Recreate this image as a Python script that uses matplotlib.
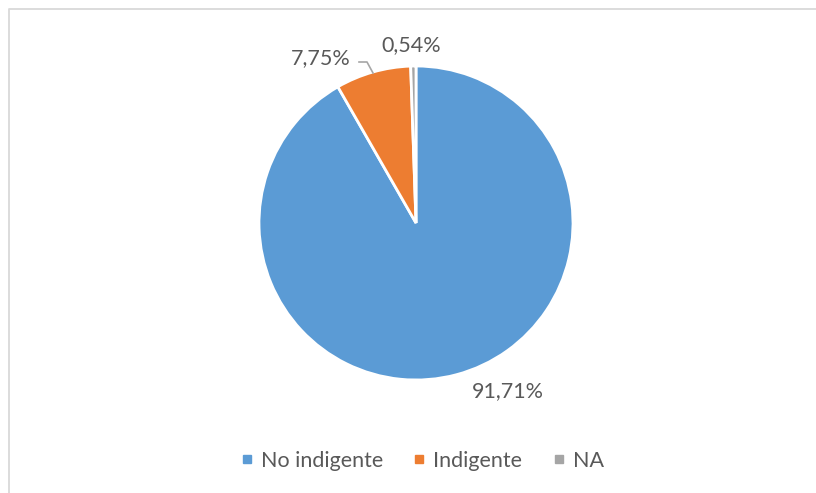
import numpy as np
import matplotlib.pyplot as plt
from matplotlib.lines import Line2D

# Data
categories = ['No indigente', 'Indigente', 'NA']
shares = [91.71, 7.75, 0.54]
labels = ['91,71%', '7,75%', '0,54%']
colors = ['#5B9BD5', '#ED7D31', '#A5A5A5']

W, H = 816, 493
plt.rcParams['font.family'] = ['Lato', 'DejaVu Sans']
text_color = '#595959'

fig = plt.figure(figsize=(W / 100, H / 100), dpi=100)
ax = fig.add_axes([0, 0, 1, 1])

# pie centre / radius in pixels (y measured upward)
cx, cy, r = 416, H - 223, 157
wedges, _ = ax.pie(shares, colors=colors, startangle=90, counterclock=False,
                   center=(cx, cy), radius=r,
                   wedgeprops=dict(edgecolor='white', linewidth=2))
ax.set_xlim(0, W)
ax.set_ylim(0, H)
ax.set_aspect('equal')
ax.axis('off')

# frame (only top and left visible in the reference)
ax.plot([8.5, 8.5, W], [0, H - 9, H - 9], color='#D9D9D9', lw=1.3,
        solid_capstyle='butt')

# label positions (text centres)
label_pos = [(508, H - 391), (321, H - 58), (411, H - 45)]
for (x, y), lab in zip(label_pos, labels):
    ax.text(x, y, lab, ha='center', va='center', fontsize=15.5,
            color=text_color)

# leader line for the small orange slice
mid = np.deg2rad((wedges[1].theta1 + wedges[1].theta2) / 2)
ex, ey = cx + r * np.cos(mid), cy + r * np.sin(mid)
ax.plot([359, 367, ex], [H - 62, H - 62, ey - 1], color='#A6A6A6', lw=1.2)

handles = [Line2D([0], [0], marker='s', ls='', markersize=6,
                  markerfacecolor=c, markeredgecolor=c) for c in colors]
fig.legend(handles, categories, loc='center', ncol=3,
           bbox_to_anchor=(421 / W, 1 - 461 / H), frameon=False,
           fontsize=15.5, labelcolor=text_color, handletextpad=0.25,
           columnspacing=1.3, handlelength=0.8)

fig.savefig('out.png', dpi=100, facecolor='white')
